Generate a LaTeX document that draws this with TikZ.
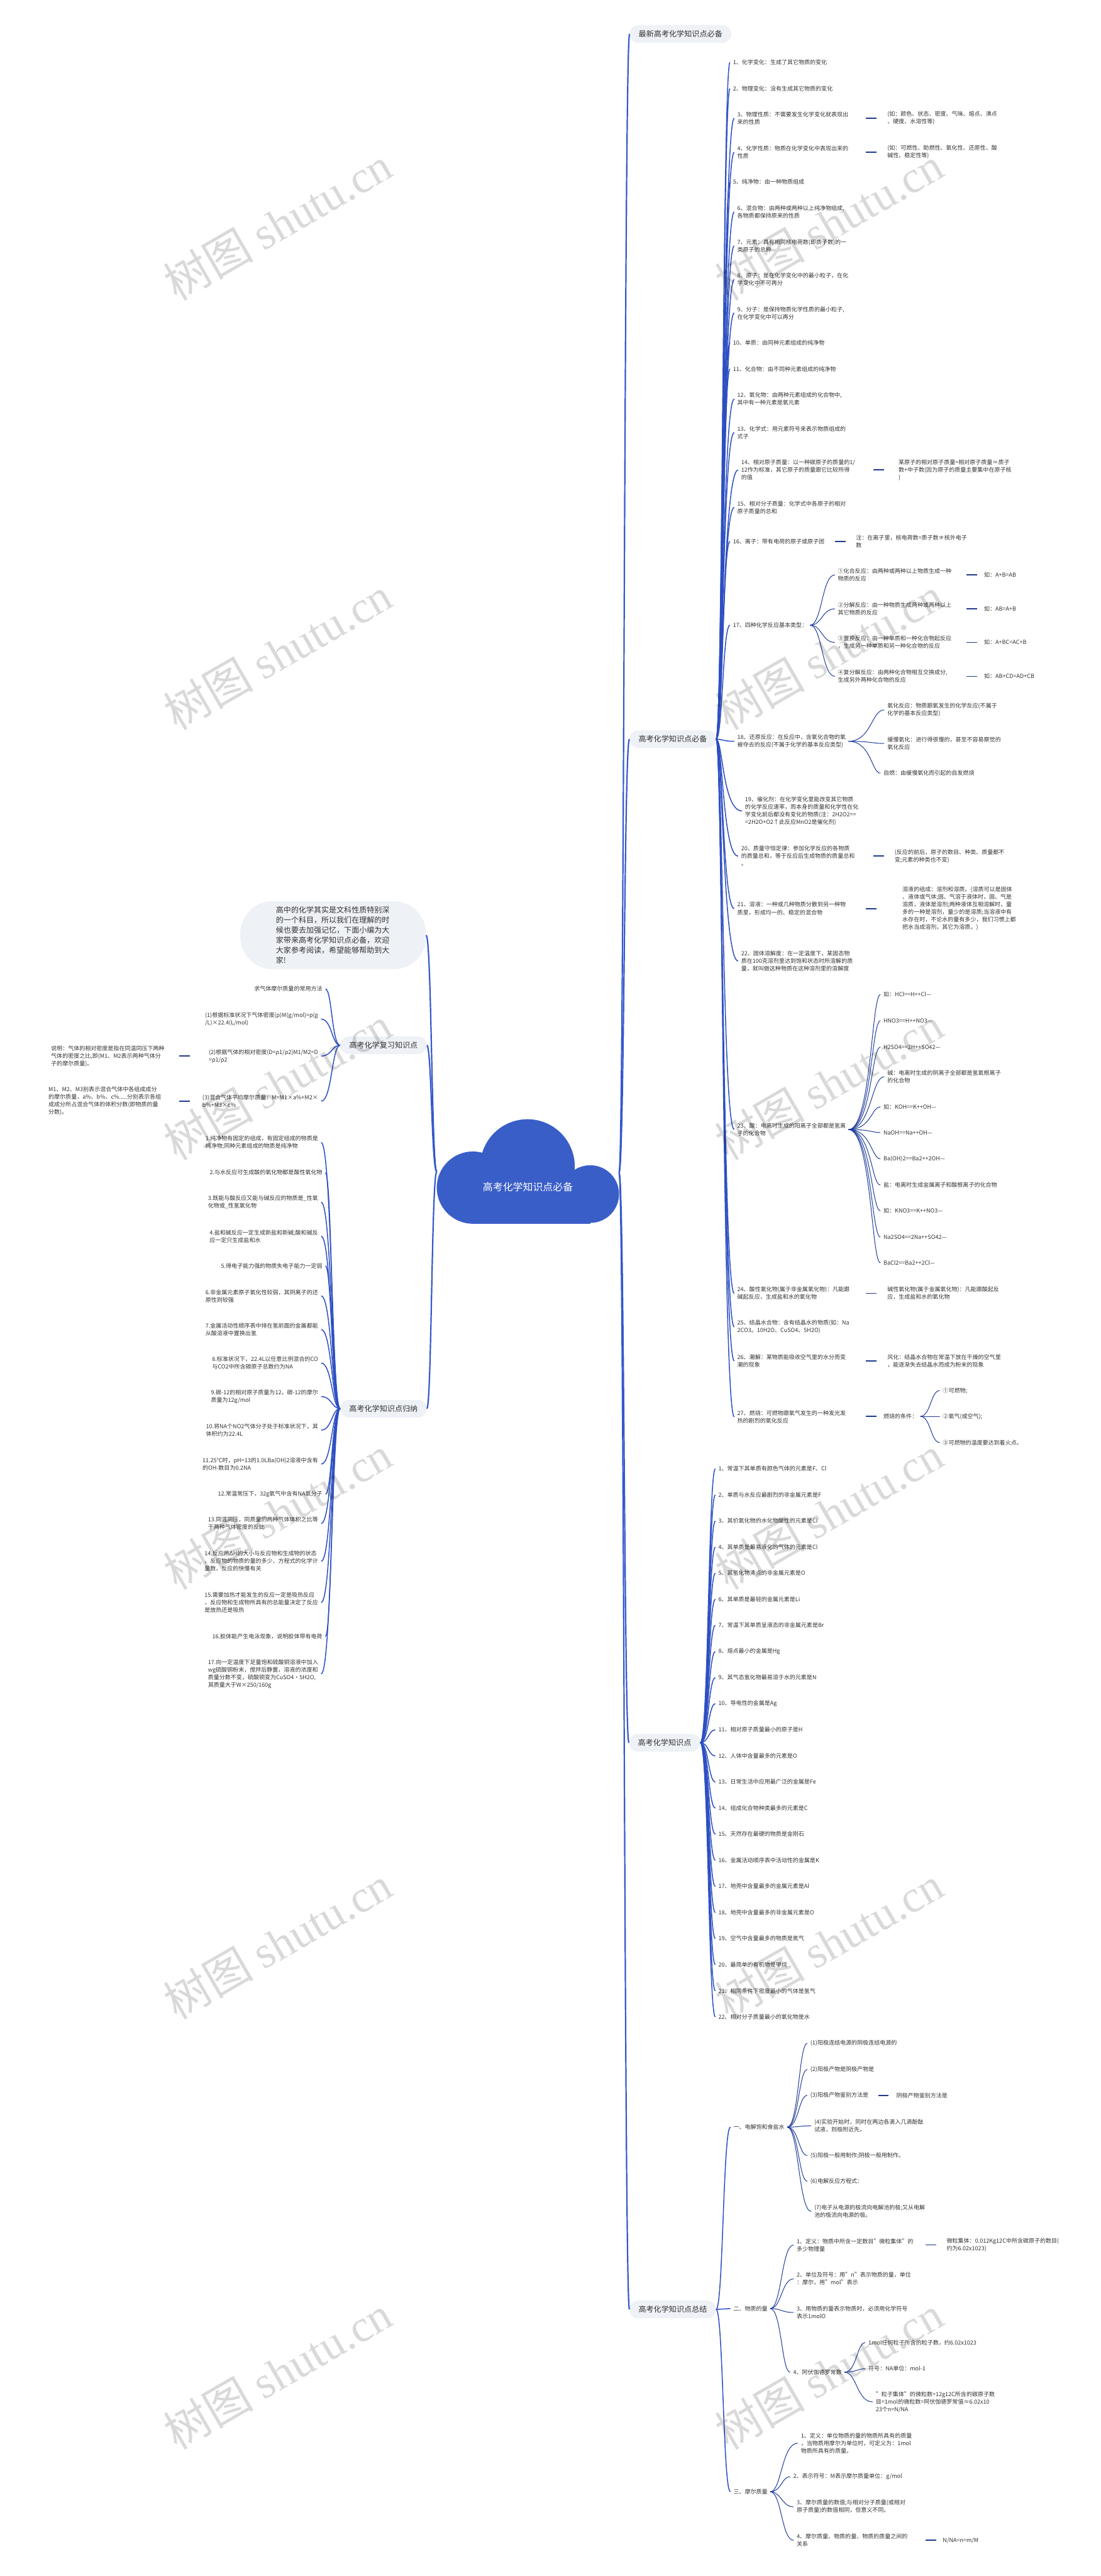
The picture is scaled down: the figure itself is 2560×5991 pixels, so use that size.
\documentclass[tikz,border=0pt]{standalone}
\usepackage{fontspec}
\setmainfont{Noto Sans CJK SC}
\newfontfamily\wmlatin{Liberation Serif}
\usetikzlibrary{calc}
\definecolor{cloudc}{HTML}{3A5EC8}
\definecolor{lonec}{HTML}{3558CC}
\definecolor{ltwoc}{HTML}{2D4FC2}
\definecolor{lthreec}{HTML}{233F9E}
\definecolor{dshc}{HTML}{1F3A8A}
\definecolor{labf}{HTML}{EEF1F6}
\definecolor{txt}{HTML}{333333}
\newcommand\mmlink[4]{\draw[#1] (#2) .. controls (#2 -| #3) and (#4 -| #3) .. (#4);}
\begin{document}
\begin{tikzpicture}[x=1pt,y=-1pt,
  leaf/.style={font=\fontsize{13.2}{17.6}\selectfont, text=txt, align=left, inner sep=0pt},
  lab/.style={fill=labf, rounded corners=20, font=\fontsize{17.7}{22}\selectfont, text=txt, minimum height=41, inner xsep=21, inner ysep=0},
  cone/.style={draw=lonec, line width=3.2},
  ctwo/.style={draw=ltwoc, line width=2.2, shorten >=7},
  cthree/.style={draw=lthreec, line width=1.5, shorten <=6, shorten >=7},
  dsh/.style={draw=dshc, line width=2.6},
  wm/.style={rotate=30, text=black, opacity=0.15, font=\fontsize{105}{105}\selectfont, inner sep=0}]
\fill[white] (0,0) rectangle (2560,5991);
\useasboundingbox (0,0) rectangle (2560,5991);

% ---------- centre cloud ----------
\fill[cloudc] (1100,2762) circle[radius=84] (1227,2713) circle[radius=110] (1373,2777) circle[radius=67];
\fill[cloudc] (1100,2762) rectangle (1373,2846);
\node[text=white, font=\fontsize{23.3}{26}\selectfont, inner sep=0] (C) at (1228,2761) {高考化学知识点必备};
\coordinate (cr) at (1440,2727);
\coordinate (cl) at (1016,2725);
\coordinate (tR) at (1452,0);
\coordinate (tL) at (1004,0);

% ---------- level 1 labels ----------
\node[lab] (S1) at (1583,79) {最新高考化学知识点必备};
\node[lab] (S2) at (1565,1719) {高考化学知识点必备};
\node[lab] (S3) at (1546,4053) {高考化学知识点};
\node[lab] (S4) at (1565,5371) {高考化学知识点总结};
\node[lab] (L1) at (892,2431) {高考化学复习知识点};
\node[lab] (L2) at (892,3276) {高考化学知识点归纳};
\node[fill=labf, rounded corners=75, minimum width=432, minimum height=158, text width=266, align=left,
      font=\fontsize{17.6}{23.5}\selectfont, text=txt] (I) at (775,2175)
 {高中的化学其实是文科性质特别深\\的一个科目，所以我们在理解的时\\候也要去加强记忆，下面小编为大\\家带来高考化学知识点必备，欢迎\\大家参考阅读，希望能够帮助到大\\家!};

\mmlink{cone}{cr}{tR}{S1.west}
\mmlink{cone}{cr}{tR}{S2.west}
\mmlink{cone}{cr}{tR}{S3.west}
\mmlink{cone}{cr}{tR}{S4.west}
\mmlink{cone}{cl}{tL}{I.east}
\mmlink{cone}{cl}{tL}{L1.east}
\mmlink{cone}{cl}{tL}{L2.east}

% ---------- section S2 ----------
\coordinate (tS2) at (1681,0);
\node[leaf,anchor=west] (b1) at (1705,145) {1、化学变化：生成了其它物质的变化};
\node[leaf,anchor=west] (b2) at (1705,206) {2、物理变化：没有生成其它物质的变化};
\node[leaf,anchor=west] (b3) at (1715,275) {3、物理性质：不需要发生化学变化就表现出\\来的性质};
\node[leaf,anchor=west] (b3c) at (2064,275) {(如：颜色、状态、密度、气味、熔点、沸点\\、硬度、水溶性等)};
\node[leaf,anchor=west] (b4) at (1715,354) {4、化学性质：物质在化学变化中表现出来的\\性质};
\node[leaf,anchor=west] (b4c) at (2064,354) {(如：可燃性、助燃性、氧化性、还原性、酸\\碱性、稳定性等)};
\node[leaf,anchor=west] (b5) at (1705,423) {5、纯净物：由一种物质组成};
\node[leaf,anchor=west] (b6) at (1715,493) {6、混合物：由两种或两种以上纯净物组成,\\各物质都保持原来的性质};
\node[leaf,anchor=west] (b7) at (1715,572) {7、元素：具有相同核电荷数(即质子数)的一\\类原子的总称};
\node[leaf,anchor=west] (b8) at (1715,650) {8、原子：是在化学变化中的最小粒子，在化\\学变化中不可再分};
\node[leaf,anchor=west] (b9) at (1715,728) {9、分子：是保持物质化学性质的最小粒子,\\在化学变化中可以再分};
\node[leaf,anchor=west] (b10) at (1705,797) {10、单质：由同种元素组成的纯净物};
\node[leaf,anchor=west] (b11) at (1705,858) {11、化合物：由不同种元素组成的纯净物};
\node[leaf,anchor=west] (b12) at (1715,928) {12、氧化物：由两种元素组成的化合物中,\\其中有一种元素是氧元素};
\node[leaf,anchor=west] (b13) at (1715,1006) {13、化学式：用元素符号来表示物质组成的\\式子};
\node[leaf,anchor=west] (b14) at (1724,1093) {14、相对原子质量：以一种碳原子的质量的1/\\12作为标准，其它原子的质量跟它比较所得\\的值};
\node[leaf,anchor=west] (b14c) at (2090,1093) {某原子的相对原子质量=相对原子质量≈质子\\数+中子数(因为原子的质量主要集中在原子核\\)};
\node[leaf,anchor=west] (b15) at (1715,1180) {15、相对分子质量：化学式中各原子的相对\\原子质量的总和};
\node[leaf,anchor=west] (b16) at (1705,1259) {16、离子：带有电荷的原子或原子团};
\node[leaf,anchor=west] (b16c) at (1991,1259) {注：在离子里，核电荷数=质子数≠核外电子\\数};
\node[leaf,anchor=west] (b17) at (1705,1454) {17、四种化学反应基本类型：};
\node[leaf,anchor=west] (r1) at (1949,1337) {①化合反应：由两种或两种以上物质生成一种\\物质的反应};
\node[leaf,anchor=west] (r2) at (1949,1416) {②分解反应：由一种物质生成两种或两种以上\\其它物质的反应};
\node[leaf,anchor=west] (r3) at (1949,1494) {③置换反应：由一种单质和一种化合物起反应\\，生成另一种单质和另一种化合物的反应};
\node[leaf,anchor=west] (r4) at (1949,1573) {④复分解反应：由两种化合物相互交换成分,\\生成另外两种化合物的反应};
\node[leaf,anchor=west] (r1c) at (2289,1337) {如：A+B=AB};
\node[leaf,anchor=west] (r2c) at (2289,1416) {如：AB=A+B};
\node[leaf,anchor=west] (r3c) at (2289,1494) {如：A+BC=AC+B};
\node[leaf,anchor=west] (r4c) at (2289,1573) {如：AB+CD=AD+CB};
\node[leaf,anchor=west] (b18) at (1715,1724) {18、还原反应：在反应中，含氧化合物的氧\\被夺去的反应(不属于化学的基本反应类型)};
\node[leaf,anchor=west] (o1) at (2064,1651) {氧化反应：物质跟氧发生的化学反应(不属于\\化学的基本反应类型)};
\node[leaf,anchor=west] (o2) at (2064,1729) {缓慢氧化：进行得很慢的，甚至不容易察觉的\\氧化反应};
\node[leaf,anchor=west] (o3) at (2055,1798) {自燃：由缓慢氧化而引起的自发燃烧};
\node[leaf,anchor=west] (b19) at (1733,1886) {19、催化剂：在化学变化里能改变其它物质\\的化学反应速率，而本身的质量和化学性在化\\学变化前后都没有变化的物质(注：2H2O2==\\=2H2O+O2↑此反应MnO2是催化剂)};
\node[leaf,anchor=west] (b20) at (1724,1991) {20、质量守恒定律：参加化学反应的各物质\\的质量总和，等于反应后生成物质的质量总和\\。};
\node[leaf,anchor=west] (b20c) at (2081,1991) {(反应的前后，原子的数目、种类、质量都不\\变;元素的种类也不变)};
\node[leaf,anchor=west] (b21) at (1715,2113) {21、溶液：一种或几种物质分散到另一种物\\质里，形成均一的、稳定的混合物};
\node[leaf,anchor=west] (b21c) at (2099,2113) {溶液的组成：溶剂和溶质。(溶质可以是固体\\、液体或气体;固、气溶于液体时，固、气是\\溶质，液体是溶剂;两种液体互相溶解时，量\\多的一种是溶剂，量少的是溶质;当溶液中有\\水存在时，不论水的量有多少，我们习惯上都\\把水当成溶剂，其它为溶质。)};
\node[leaf,anchor=west] (b22) at (1724,2235) {22、固体溶解度：在一定温度下，某固态物\\质在100克溶剂里达到饱和状态时所溶解的质\\量，就叫做这种物质在这种溶剂里的溶解度};
\node[leaf,anchor=west] (b23) at (1715,2627) {23、酸：电离时生成的阳离子全部都是氢离\\子的化合物};
\node[leaf,anchor=west] (e1) at (2055,2313) {如：HCl==H++Cl—};
\node[leaf,anchor=west] (e2) at (2055,2374) {HNO3==H++NO3—};
\node[leaf,anchor=west] (e3) at (2055,2435) {H2SO4==2H++SO42—};
\node[leaf,anchor=west] (e4) at (2064,2504) {碱：电离时生成的阴离子全部都是氢氧根离子\\的化合物};
\node[leaf,anchor=west] (e5) at (2055,2574) {如：KOH==K++OH—};
\node[leaf,anchor=west] (e6) at (2055,2634) {NaOH==Na++OH—};
\node[leaf,anchor=west] (e7) at (2055,2695) {Ba(OH)2==Ba2++2OH—};
\node[leaf,anchor=west] (e8) at (2055,2756) {盐：电离时生成金属离子和酸根离子的化合物};
\node[leaf,anchor=west] (e9) at (2055,2816) {如：KNO3==K++NO3—};
\node[leaf,anchor=west] (e10) at (2055,2877) {Na2SO4==2Na++SO42—};
\node[leaf,anchor=west] (e11) at (2055,2937) {BaCl2==Ba2++2Cl—};
\node[leaf,anchor=west] (b24) at (1715,3008) {24、酸性氧化物(属于非金属氧化物)：凡能跟\\碱起反应，生成盐和水的氧化物};
\node[leaf,anchor=west] (b24c) at (2064,3008) {碱性氧化物(属于金属氧化物)：凡能跟酸起反\\应，生成盐和水的氧化物};
\node[leaf,anchor=west] (b25) at (1715,3086) {25、结晶水合物：含有结晶水的物质(如：Na\\2CO3。10H2O、CuSO4。5H2O)};
\node[leaf,anchor=west] (b26) at (1715,3165) {26、潮解：某物质能吸收空气里的水分而变\\潮的现象};
\node[leaf,anchor=west] (b26c) at (2064,3165) {风化：结晶水合物在常温下放在干燥的空气里\\，能逐渐失去结晶水而成为粉末的现象};
\node[leaf,anchor=west] (b27) at (1715,3295) {27、燃烧：可燃物跟氧气发生的一种发光发\\热的剧烈的氧化反应};
\node[leaf,anchor=west] (b27c) at (2055,3294) {燃烧的条件：};
\node[leaf,anchor=west] (f1) at (2193,3234) {①可燃物;};
\node[leaf,anchor=west] (f2) at (2193,3294) {②氧气(或空气);};
\node[leaf,anchor=west] (f3) at (2193,3355) {③可燃物的温度要达到着火点。};

\foreach \k in {1,...,27} {\mmlink{ctwo}{S2.east}{tS2}{b\k.west}}
\coordinate (t17) at (1912,0);
\foreach \k in {1,...,4} {\mmlink{cthree}{b17.east}{t17}{r\k.west}}
\coordinate (t18) at (2027,0);
\foreach \k in {1,2,3} {\mmlink{cthree}{b18.east}{t18}{o\k.west}}
\foreach \k in {1,...,11} {\mmlink{cthree}{b23.east}{t18}{e\k.west}}
\coordinate (t27) at (2165,0);
\foreach \k in {1,2,3} {\mmlink{cthree}{b27c.east}{t27}{f\k.west}}

\draw[dsh] ([xshift=-50]b3c.west) -- ([xshift=-25]b3c.west);
\draw[dsh] ([xshift=-50]b4c.west) -- ([xshift=-25]b4c.west);
\draw[dsh] ([xshift=-58]b14c.west) -- ([xshift=-33]b14c.west);
\draw[dsh] ([xshift=-49]b16c.west) -- ([xshift=-24]b16c.west);
\foreach \k in {1,...,4} {\draw[dsh] ([xshift=-41]r\k c.west) -- ([xshift=-16]r\k c.west);}
\draw[dsh] ([xshift=-49]b20c.west) -- ([xshift=-24]b20c.west);
\draw[dsh] ([xshift=-85]b21c.west) -- ([xshift=-60]b21c.west);
\draw[dsh] ([xshift=-50]b24c.west) -- ([xshift=-25]b24c.west);
\draw[dsh] ([xshift=-50]b26c.west) -- ([xshift=-25]b26c.west);
\draw[dsh] ([xshift=-41]b27c.west) -- ([xshift=-16]b27c.west);

% ---------- section S3 ----------
\coordinate (tS3) at (1648,0);
\foreach \k/\mmT in {1/{1、常温下其单质有颜色气体的元素是F、Cl},2/{2、单质与水反应最剧烈的非金属元素是F},
  3/{3、其价氧化物的水化物酸性的元素是Cl},4/{4、其单质是最易液化的气体的元素是Cl},
  5/{5、其氢化物沸点的非金属元素是O},6/{6、其单质是最轻的金属元素是Li},
  7/{7、常温下其单质呈液态的非金属元素是Br},8/{8、熔点最小的金属是Hg},
  9/{9、其气态氢化物最易溶于水的元素是N},10/{10、导电性的金属是Ag},
  11/{11、相对原子质量最小的原子是H},12/{12、人体中含量最多的元素是O},
  13/{13、日常生活中应用最广泛的金属是Fe},14/{14、组成化合物种类最多的元素是C},
  15/{15、天然存在最硬的物质是金刚石},16/{16、金属活动顺序表中活动性的金属是K},
  17/{17、地壳中含量最多的金属元素是Al},18/{18、地壳中含量最多的非金属元素是O},
  19/{19、空气中含量最多的物质是氮气},20/{20、最简单的有机物是甲烷},
  21/{21、相同条件下密度最小的气体是氢气},22/{22、相对分子质量最小的氧化物是水}}
  {\node[leaf,anchor=west] (c\k) at (1671,{3416+60.7*(\k-1)}) {\mmT};
   \mmlink{ctwo}{S3.east}{tS3}{c\k.west}}

% ---------- section S4 ----------
\coordinate (tS4) at (1682,0);
\node[leaf,anchor=west] (d1) at (1706,4947) {一、电解饱和食盐水};
\node[leaf,anchor=west] (d2) at (1706,5369) {二、物质的量};
\node[leaf,anchor=west] (d3) at (1706,5795) {三、摩尔质量};
\foreach \k in {1,2,3} {\mmlink{ctwo}{S4.east}{tS4}{d\k.west}}
\node[leaf,anchor=west] (g1) at (1885,4752) {(1)阳极连结电源的阴极连结电源的};
\node[leaf,anchor=west] (g2) at (1885,4813) {(2)阳极产物是阴极产物是};
\node[leaf,anchor=west] (g3) at (1885,4873) {(3)阳极产物鉴别方法是};
\node[leaf,anchor=west] (g3c) at (2085,4873) {阴极产物鉴别方法是};
\node[leaf,anchor=west] (g4) at (1894,4944) {(4)实验开始时，同时在两边各滴入几滴酚酞\\试液，则极附近先。};
\node[leaf,anchor=west] (g5) at (1885,5013) {(5)阳极一般用制作;阴极一般用制作。};
\node[leaf,anchor=west] (g6) at (1885,5073) {(6)电解反应方程式：};
\node[leaf,anchor=west] (g7) at (1894,5143) {(7)电子从电源的极流向电解池的极;又从电解\\池的极流向电源的极。};
\coordinate (td1) at (1858,0);
\foreach \k in {1,...,7} {\mmlink{cthree}{d1.east}{td1}{g\k.west}}
\draw[dsh] ([xshift=-42]g3c.west) -- ([xshift=-18]g3c.west);
\node[leaf,anchor=west] (h1) at (1853,5221) {1、定义：物质中所含一定数目"微粒集体"的\\多少物理量};
\node[leaf,anchor=west] (h1c) at (2202,5221) {微粒集体：0.012Kg12C中所含碳原子的数目(\\约为6.02x1023)};
\node[leaf,anchor=west] (h2) at (1853,5300) {2、单位及符号：用"n"表示物质的量，单位\\：摩尔，用"mol"表示};
\node[leaf,anchor=west] (h3) at (1853,5378) {3、用物质的量表示物质时，必须用化学符号\\表示1molO};
\node[leaf,anchor=west] (h4) at (1845,5517) {4、阿伏伽德罗常数};
\coordinate (td2) at (1818,0);
\foreach \k in {1,...,4} {\mmlink{cthree}{d2.east}{td2}{h\k.west}}
\draw[dsh] ([xshift=-49]h1c.west) -- ([xshift=-24]h1c.west);
\node[leaf,anchor=west] (k1) at (2020,5448) {1mol任何粒子所含的粒子数，约6.02x1023};
\node[leaf,anchor=west] (k2) at (2020,5509) {符号：NA单位：mol-1};
\node[leaf,anchor=west] (k3) at (2037,5586) {"粒子集体"的微粒数=12g12C所含的碳原子数\\目=1mol的微粒数=阿伏伽德罗常值≈6.02x10\\23个n=N/NA};
\coordinate (th4) at (1993,0);
\foreach \k in {1,2,3} {\mmlink{cthree}{h4.east}{th4}{k\k.west}}
\node[leaf,anchor=west] (m1) at (1863,5682) {1、定义：单位物质的量的物质所具有的质量\\，当物质用摩尔为单位时，可定义为：1mol\\物质所具有的质量。};
\node[leaf,anchor=west] (m2) at (1845,5760) {2、表示符号：M表示摩尔质量单位：g/mol};
\node[leaf,anchor=west] (m3) at (1853,5830) {3、摩尔质量的数值;与相对分子质量(或相对\\原子质量)的数值相同，但意义不同。};
\node[leaf,anchor=west] (m4) at (1853,5908) {4、摩尔质量、物质的量、物质的质量之间的\\关系};
\node[leaf,anchor=west] (m4c) at (2193,5908) {N/NA=n=m/M};
\foreach \k in {1,...,4} {\mmlink{cthree}{d3.east}{td2}{m\k.west}}
\draw[dsh] ([xshift=-40]m4c.west) -- ([xshift=-15]m4c.west);

% ---------- left L1 ----------
\coordinate (tLL) at (772,0);
\node[leaf,anchor=east] (p0) at (750,2300) {求气体摩尔质量的常用方法};
\node[leaf,anchor=east] (p1) at (740,2370) {(1)根据标准状况下气体密度(ρ)M(g/mol)=ρ(g\\/L)×22.4(L/mol)};
\node[leaf,anchor=east] (p2) at (740,2456) {(2)根据气体的相对密度(D=ρ1/ρ2)M1/M2=D\\=ρ1/ρ2};
\node[leaf,anchor=east] (p3) at (740,2561) {(3)混合气体平均摩尔质量：M=M1×a\%+M2×\\b\%+M3×c\%};
\node[leaf,anchor=east] (p2c) at (383,2456) {说明：气体的相对密度是指在同温同压下两种\\气体的密度之比,即(M1、M2表示两种气体分\\子的摩尔质量)。};
\node[leaf,anchor=east] (p3c) at (375,2561) {M1、M2、M3别表示混合气体中各组成成分\\的摩尔质量，a\%、b\%、c\%.....分别表示各组\\成成分所占混合气体的体积分数(即物质的量\\分数)。};
\foreach \k in {0,...,3} {\mmlink{ctwo}{L1.west}{tLL}{p\k.east}}
\draw[dsh] ([xshift=34]p2c.east) -- ([xshift=59]p2c.east);
\draw[dsh] ([xshift=42]p3c.east) -- ([xshift=67]p3c.east);

% ---------- left L2 ----------
\node[leaf,anchor=east] (q1) at (740,2657) {1.纯净物有固定的组成，有固定组成的物质是\\纯净物;同种元素组成的物质是纯净物};
\node[leaf,anchor=east] (q2) at (750,2727) {2.与水反应可生成酸的氧化物都是酸性氧化物};
\node[leaf,anchor=east] (q3) at (740,2796) {3.既能与酸反应又能与碱反应的物质是\_性氧\\化物或\_性氢氧化物};
\node[leaf,anchor=east] (q4) at (740,2875) {4.盐和碱反应一定生成新盐和新碱;酸和碱反\\应一定只生成盐和水};
\node[leaf,anchor=east] (q5) at (750,2944) {5.得电子能力强的物质失电子能力一定弱};
\node[leaf,anchor=east] (q6) at (740,3014) {6.非金属元素原子氧化性较弱，其阴离子的还\\原性则较强};
\node[leaf,anchor=east] (q7) at (740,3092) {7.金属活动性顺序表中排在氢前面的金属都能\\从酸溶液中置换出氢};
\node[leaf,anchor=east] (q8) at (740,3170) {8.标准状况下，22.4L以任意比例混合的CO\\与CO2中所含碳原子总数约为NA};
\node[leaf,anchor=east] (q9) at (740,3248) {9.碳-12的相对原子质量为12，碳-12的摩尔\\质量为12g/mol};
\node[leaf,anchor=east] (q10) at (740,3326) {10.将NA个NO2气体分子处于标准状况下，其\\体积约为22.4L};
\node[leaf,anchor=east] (q11) at (740,3405) {11.25℃时，pH=13的1.0LBa(OH)2溶液中含有\\的OH-数目为0.2NA};
\node[leaf,anchor=east] (q12) at (750,3475) {12.常温常压下，32g氧气中含有NA氧分子};
\node[leaf,anchor=east] (q13) at (740,3543) {13.同温同压，同质量的两种气体体积之比等\\于两种气体密度的反比};
\node[leaf,anchor=east] (q14) at (740,3631) {14.反应热ΔH的大小与反应物和生成物的状态\\、反应物的物质的量的多少、方程式的化学计\\量数、反应的快慢有关};
\node[leaf,anchor=east] (q15) at (740,3727) {15.需要加热才能发生的反应一定是吸热反应\\，反应物和生成物所具有的总能量决定了反应\\是放热还是吸热};
\node[leaf,anchor=east] (q16) at (750,3806) {16.胶体能产生电泳现象，说明胶体带有电荷};
\node[leaf,anchor=east] (q17) at (740,3893) {17.向一定温度下足量饱和硫酸铜溶液中加入\\wg硫酸铜粉末，搅拌后静置，溶液的浓度和\\质量分数不变，硫酸铜变为CuSO4·5H2O,\\其质量大于W×250/160g};
\foreach \k in {1,...,17} {\mmlink{ctwo}{L2.west}{tLL}{q\k.east}}

% ---------- watermark ----------
\foreach \k in {0,...,5} {
  \node[wm] (wl\k) at (646,{520+999.5*\k}) {树图 {\wmlatin shutu.cn}};
  \node[wm] (wr\k) at (1928,{520+999.5*\k}) {树图 {\wmlatin shutu.cn}};
}
\end{tikzpicture}
\end{document}
